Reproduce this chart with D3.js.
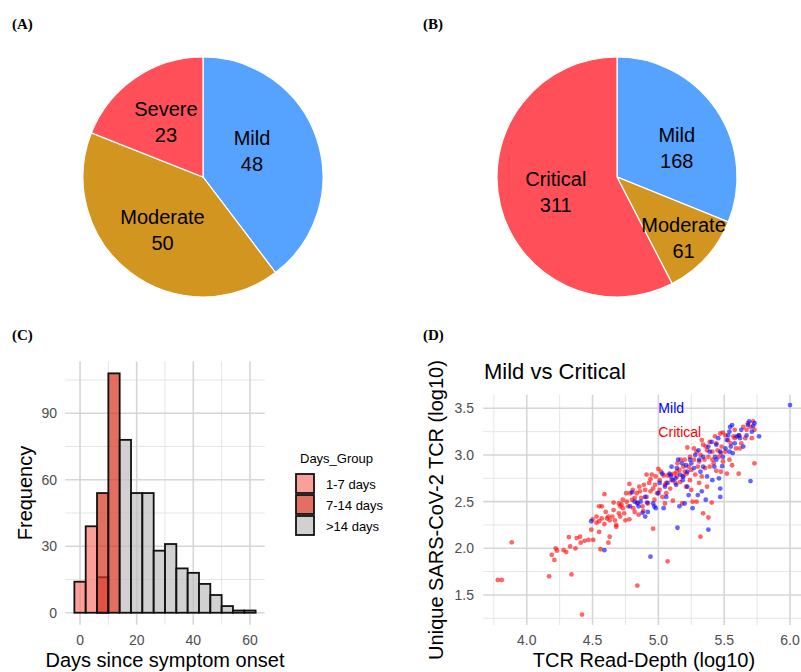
<!DOCTYPE html>
<html>
<head>
<meta charset="utf-8">
<script src="https://cdn.jsdelivr.net/npm/d3@7"></script>
<style>
  body { margin: 0; background: #fff; }
  text { font-family: "Liberation Sans", Arial, sans-serif; }
  .tag { font-family: "Liberation Serif", "DejaVu Serif", serif; font-weight: bold; font-size: 15px; }
</style>
</head>
<body>
<svg width="801" height="672"></svg>
<script>
// panel A / B: patient counts
const severityA = ["Mild", "Moderate", "Severe"];
const countsA = [48, 50, 23];
const severityB = ["Mild", "Moderate", "Critical"];
const countsB = [168, 61, 311];

// panel C: histogram, binwidth 4
const binCenters = [0, 4, 8, 12, 16, 20, 24, 28, 32, 36, 40, 44, 48, 52, 56, 60];
const days1to7  = [14, 39, 16, 0, 0, 0, 0, 0, 0, 0, 0, 0, 0, 0, 0, 0];
const days7to14 = [0, 0, 54, 108, 0, 0, 0, 0, 0, 0, 0, 0, 0, 0, 0, 0];
const days14up  = [0, 0, 0, 0, 78, 54, 54, 28, 31, 20, 18, 13, 8, 3, 1, 1];
const dayGroups = ["1-7 days", "7-14 days", ">14 days"];
const histXTicks = [0, 20, 40, 60];
const histYTicks = [0, 30, 60, 90];

// panel D: log10 read depth vs log10 unique TCR
const criticalPoints = [
  [3.78,1.66],[3.81,1.66],[3.886,2.064],[4.17,1.70],[4.19,1.93],[4.21,1.875],[4.22,2.0],[4.23,1.975],
  [4.28,1.98],[4.30,1.96],[4.32,2.12],[4.34,1.72],[4.33,2.02],[4.37,2.0],[4.38,2.11],[4.405,2.125],
  [4.42,1.29],[4.41,2.06],[4.44,2.08],[4.47,2.09],[4.49,2.20],[4.50,2.31],[4.505,2.09],[4.53,2.275],
  [4.55,2.29],[4.55,2.175],[4.56,1.99],[4.57,2.32],[4.55,2.45],[4.57,2.45],[4.59,2.58],[4.59,2.26],
  [4.61,2.32],[4.62,2.34],[4.63,2.125],[4.62,2.06],[4.63,2.30],[4.65,2.34],[4.66,2.41],[4.67,2.30],
  [4.68,2.25],[4.68,2.23],[4.70,2.48],[4.70,2.375],[4.71,2.45],[4.71,2.34],[4.72,2.47],[4.73,2.43],
  [4.74,2.375],[4.75,2.30],[4.76,2.5],[4.77,2.45],[4.78,2.31],[4.78,2.69],[4.785,2.59],[4.80,2.52],
  [4.81,2.43],[4.82,2.39],[4.835,2.59],[4.84,2.49],[4.85,2.36],[4.84,1.60],[4.86,2.61],[4.87,2.54],
  [4.88,2.45],[4.886,2.40],[4.90,2.625],[4.91,2.55],[4.91,2.79],[4.92,2.48],[4.93,2.70],[4.94,2.61],
  [4.95,2.79],[4.96,2.21],[4.96,2.64],[4.97,2.52],[4.975,2.68],[4.99,2.59],[5.0,2.85],[5.01,2.73],
  [5.01,2.625],[5.03,2.55],[5.04,2.78],[5.05,2.48],[5.06,2.70],[5.06,2.59],[5.07,1.86],[5.07,2.78],
  [5.09,2.64],[5.10,2.73],[5.11,2.51],[5.12,2.80],[5.13,2.70],[5.14,2.77],[5.145,2.91],[5.16,2.84],
  [5.165,2.71],[5.18,2.48],[5.185,2.77],[5.19,2.875],[5.20,2.95],[5.21,2.66],[5.215,2.80],[5.22,3.08],
  [5.23,2.875],[5.24,2.73],[5.25,2.625],[5.26,2.5],[5.27,2.95],[5.28,2.79],[5.29,2.5],[5.29,3.035],
  [5.30,2.875],[5.31,2.70],[5.32,3.0],[5.32,2.125],[5.33,2.77],[5.34,2.375],[5.34,3.11],[5.35,2.95],
  [5.355,2.86],[5.36,3.09],[5.37,2.66],[5.38,2.33],[5.38,2.98],[5.39,2.875],[5.39,3.14],[5.405,2.49],
  [5.41,3.035],[5.42,2.91],[5.43,3.20],[5.44,2.83],[5.45,3.05],[5.46,2.98],[5.47,3.23],[5.475,2.82],
  [5.48,3.09],[5.49,2.93],[5.49,3.24],[5.51,3.035],[5.52,2.80],[5.53,3.16],[5.54,2.95],[5.56,2.89],
  [5.57,3.20],[5.58,3.18],[5.59,3.07],[5.61,2.80],[5.615,3.21],[5.63,3.125],[5.645,3.30],[5.66,3.18],
  [5.67,3.27],[5.68,3.34],[5.70,3.30],[5.71,3.18],[5.72,3.36],[5.73,3.27],[5.73,2.91],
  [4.53,2.34],[4.60,2.39],[4.66,2.49],[4.73,2.52],[4.755,2.59],[4.805,2.625],[4.82,2.54],[4.855,2.66],
  [4.89,2.68],[4.94,2.74],[4.98,2.77],[5.02,2.82],[5.05,2.68],[5.095,2.79],[5.14,2.82],[5.17,2.95],
  [5.20,2.82],[5.24,2.98],[5.25,2.84],[5.27,3.07],[5.31,2.93],[5.33,3.16],[5.37,3.05],[5.41,2.95],
  [5.44,3.125],[5.475,3.02],[5.51,3.21],[5.55,3.125],[5.58,3.27],[5.62,3.07]
];
const mildPoints = [
  [6.0,3.535],[5.765,3.20],[5.70,2.72],[5.645,3.09],[5.67,3.21],[5.68,3.32],[5.72,3.31],[5.73,3.34],
  [5.71,3.25],[5.63,3.27],[5.62,3.18],[5.595,3.20],[5.56,3.32],[5.54,3.25],[5.53,3.21],[5.52,3.16],
  [5.51,3.07],[5.565,3.02],[5.55,3.09],[5.54,3.035],[5.49,2.98],[5.485,2.88],[5.47,2.64],[5.47,2.55],
  [5.46,2.75],[5.455,3.18],[5.44,3.11],[5.43,2.98],[5.425,2.875],[5.41,2.73],[5.405,3.14],[5.39,3.035],
  [5.38,3.09],[5.37,2.77],[5.36,2.52],[5.38,2.20],[5.34,2.875],[5.33,2.61],[5.32,2.82],[5.31,2.95],
  [5.305,3.05],[5.30,2.57],[5.28,3.0],[5.27,2.86],[5.26,2.43],[5.24,2.95],[5.23,2.57],[5.22,2.82],
  [5.21,2.89],[5.20,2.48],[5.19,2.77],[5.18,2.91],[5.165,2.79],[5.16,2.45],[5.145,2.22],[5.14,2.86],
  [5.135,2.68],[5.13,2.75],[5.11,2.73],[5.10,2.875],[5.095,2.77],[5.085,2.80],[5.07,2.70],[5.06,2.55],
  [5.05,2.66],[5.04,2.43],[5.03,2.80],[5.01,2.70],[5.0,2.59],[4.98,2.43],[4.97,2.45],[4.96,2.48],
  [4.94,1.91],[4.92,2.39],[4.915,2.49],[4.90,2.34],[4.90,2.55],[4.88,2.38],[4.865,2.50],[4.85,2.45],
  [4.84,2.48],[4.82,2.50],[4.80,2.60],[4.785,2.45],[4.49,2.29],[4.59,1.98],[5.58,3.125],[5.61,3.21],
  [5.47,3.035],[5.44,2.95],[5.34,2.98],[5.25,2.91],[5.22,2.66],[5.185,2.73],[5.15,2.95],[5.69,3.36],
  [5.545,3.30]
];
const scatterXTicks = [4.0, 4.5, 5.0, 5.5, 6.0];
const scatterYTicks = [1.5, 2.0, 2.5, 3.0, 3.5];

const svg = d3.select("svg");
const pieColors = { Mild: "#55A2FF", Moderate: "#D2951F", Severe: "#FF4F59", Critical: "#FF4F59" };
const gridMajor = "#d6d6d6", gridMinor = "#e6e6e6";

// panel tags
[["(A)", 12, 29], ["(B)", 423, 29], ["(C)", 12, 340], ["(D)", 423, 340]].forEach(t =>
  svg.append("text").attr("class", "tag").attr("x", t[1]).attr("y", t[2]).text(t[0]));

// ---------- pies ----------
function drawPie(names, counts, cx, cy, labelR, nudges) {
  const data = names.map((n, i) => ({ name: n, value: counts[i] }));
  const arcs = d3.pie().sort(null).value(d => d.value)(data);
  const r = 120;
  const g = svg.append("g").attr("transform", `translate(${cx},${cy})`);
  g.selectAll("path")
    .data(arcs)
    .join("path")
      .attr("d", d3.arc().innerRadius(0).outerRadius(r))
      .attr("fill", d => pieColors[d.data.name])
      .attr("stroke", "#fff")
      .attr("stroke-width", 1.2);
  const lab = g.selectAll("text.lab")
    .data(arcs)
    .join("text")
      .attr("class", "lab")
      .attr("text-anchor", "middle")
      .attr("font-size", 20)
      .attr("fill", "#000")
      .attr("transform", (d, i) => {
        const c = d3.arc().innerRadius(labelR[i]).outerRadius(labelR[i]).centroid(d);
        return `translate(${c[0] + nudges[i][0]},${c[1] + nudges[i][1]})`;
      });
  lab.append("tspan").attr("x", 0).attr("y", -6).text(d => d.data.name);
  lab.append("tspan").attr("x", 0).attr("y", 20).text(d => d.data.value);
}
drawPie(severityA, countsA, 203, 177, [58, 67, 66], [[-6, -8], [0, 0], [0, 0]]);
drawPie(severityB, countsB, 617, 177, [66, 90, 63], [[5, 8], [0, 0], [0, 0]]);

// ---------- histogram ----------
const hx = d3.scaleLinear().domain([-5.2, 65.2]).range([65.3, 264.7]);
const hy = d3.scaleLinear().domain([-5.4, 113.4]).range([624.7, 361.4]);
const hg = svg.append("g");
[10, 30, 50].forEach(v => hg.append("line").attr("x1", hx(v)).attr("x2", hx(v)).attr("y1", hy.range()[0]).attr("y2", hy.range()[1]).attr("stroke", gridMinor).attr("stroke-width", 1));
[15, 45, 75, 105].forEach(v => hg.append("line").attr("y1", hy(v)).attr("y2", hy(v)).attr("x1", hx.range()[0]).attr("x2", hx.range()[1]).attr("stroke", gridMinor).attr("stroke-width", 1));
histXTicks.forEach(v => hg.append("line").attr("x1", hx(v)).attr("x2", hx(v)).attr("y1", hy.range()[0]).attr("y2", hy.range()[1]).attr("stroke", gridMajor).attr("stroke-width", 1.6));
histYTicks.forEach(v => hg.append("line").attr("y1", hy(v)).attr("y2", hy(v)).attr("x1", hx.range()[0]).attr("x2", hx.range()[1]).attr("stroke", gridMajor).attr("stroke-width", 1.6));

const groupFill = { "1-7 days": "#F8766D", "7-14 days": "#D7301F", ">14 days": "#BEBEBE" };
[[days1to7, dayGroups[0]], [days7to14, dayGroups[1]], [days14up, dayGroups[2]]].forEach(([counts, grp]) => {
  hg.append("g").selectAll("rect")
    .data(binCenters.map((c, i) => ({ c, n: counts[i] })).filter(d => d.n > 0))
    .join("rect")
      .attr("x", d => hx(d.c - 2))
      .attr("width", d => hx(d.c + 2) - hx(d.c - 2))
      .attr("y", d => hy(d.n))
      .attr("height", d => hy(0) - hy(d.n))
      .attr("fill", groupFill[grp])
      .attr("fill-opacity", 0.7)
      .attr("stroke", "#111")
      .attr("stroke-width", 1.8);
});
histXTicks.forEach(v => hg.append("text").attr("x", hx(v)).attr("y", 645).attr("text-anchor", "middle").attr("font-size", 14).attr("fill", "#4d4d4d").text(v));
histYTicks.forEach(v => hg.append("text").attr("x", 57).attr("y", hy(v) + 5).attr("text-anchor", "end").attr("font-size", 14).attr("fill", "#4d4d4d").text(v));
hg.append("text").attr("x", 165).attr("y", 667).attr("text-anchor", "middle").attr("font-size", 20).text("Days since symptom onset");
hg.append("text").attr("transform", "translate(32,493) rotate(-90)").attr("text-anchor", "middle").attr("font-size", 20).text("Frequency");

// legend
const lg = svg.append("g");
lg.append("text").attr("x", 300).attr("y", 463).attr("font-size", 13).text("Days_Group");
dayGroups.forEach((grp, i) => {
  lg.append("rect").attr("x", 296).attr("y", 474 + i * 21).attr("width", 18).attr("height", 19)
    .attr("fill", groupFill[grp]).attr("fill-opacity", 0.7).attr("stroke", "#111").attr("stroke-width", 1.8);
  lg.append("text").attr("x", 326).attr("y", 489 + i * 21).attr("font-size", 13).text(grp);
});

// ---------- scatter ----------
const sx = d3.scaleLinear().domain([3.67, 6.12]).range([483.3, 805.8]);
const sy = d3.scaleLinear().domain([1.178, 3.647]).range([625, 394.6]);
const sg = svg.append("g");
[3.75, 4.25, 4.75, 5.25, 5.75].forEach(v => sg.append("line").attr("x1", sx(v)).attr("x2", sx(v)).attr("y1", sy.range()[0]).attr("y2", sy.range()[1]).attr("stroke", gridMinor).attr("stroke-width", 1));
[1.25, 1.75, 2.25, 2.75, 3.25].forEach(v => sg.append("line").attr("y1", sy(v)).attr("y2", sy(v)).attr("x1", sx.range()[0]).attr("x2", sx.range()[1]).attr("stroke", gridMinor).attr("stroke-width", 1));
scatterXTicks.forEach(v => sg.append("line").attr("x1", sx(v)).attr("x2", sx(v)).attr("y1", sy.range()[0]).attr("y2", sy.range()[1]).attr("stroke", gridMajor).attr("stroke-width", 1.6));
scatterYTicks.forEach(v => sg.append("line").attr("y1", sy(v)).attr("y2", sy(v)).attr("x1", sx.range()[0]).attr("x2", sx.range()[1]).attr("stroke", gridMajor).attr("stroke-width", 1.6));

sg.append("g").selectAll("circle")
  .data(criticalPoints)
  .join("circle")
    .attr("cx", d => sx(d[0])).attr("cy", d => sy(d[1])).attr("r", 2.4)
    .attr("fill", "#ff0000").attr("fill-opacity", 0.6);
sg.append("g").selectAll("circle")
  .data(mildPoints)
  .join("circle")
    .attr("cx", d => sx(d[0])).attr("cy", d => sy(d[1])).attr("r", 2.4)
    .attr("fill", "#0000ff").attr("fill-opacity", 0.6);

sg.append("text").attr("x", sx(5.0)).attr("y", sy(3.5) + 5).attr("font-size", 14).attr("fill", "#0000ff").text("Mild");
sg.append("text").attr("x", sx(5.0)).attr("y", sy(3.25) + 5).attr("font-size", 14).attr("fill", "#ff0000").text("Critical");

scatterXTicks.forEach(v => sg.append("text").attr("x", sx(v)).attr("y", 645).attr("text-anchor", "middle").attr("font-size", 14).attr("fill", "#4d4d4d").text(v.toFixed(1)));
scatterYTicks.forEach(v => sg.append("text").attr("x", 474).attr("y", sy(v) + 5).attr("text-anchor", "end").attr("font-size", 14).attr("fill", "#4d4d4d").text(v.toFixed(1)));
sg.append("text").attr("x", 484).attr("y", 379).attr("font-size", 22).text("Mild vs Critical");
sg.append("text").attr("x", 644).attr("y", 667).attr("text-anchor", "middle").attr("font-size", 20).text("TCR Read-Depth (log10)");
sg.append("text").attr("transform", "translate(443,510) rotate(-90)").attr("text-anchor", "middle").attr("font-size", 20).text("Unique SARS-CoV-2 TCR (log10)");
</script>
</body>
</html>
